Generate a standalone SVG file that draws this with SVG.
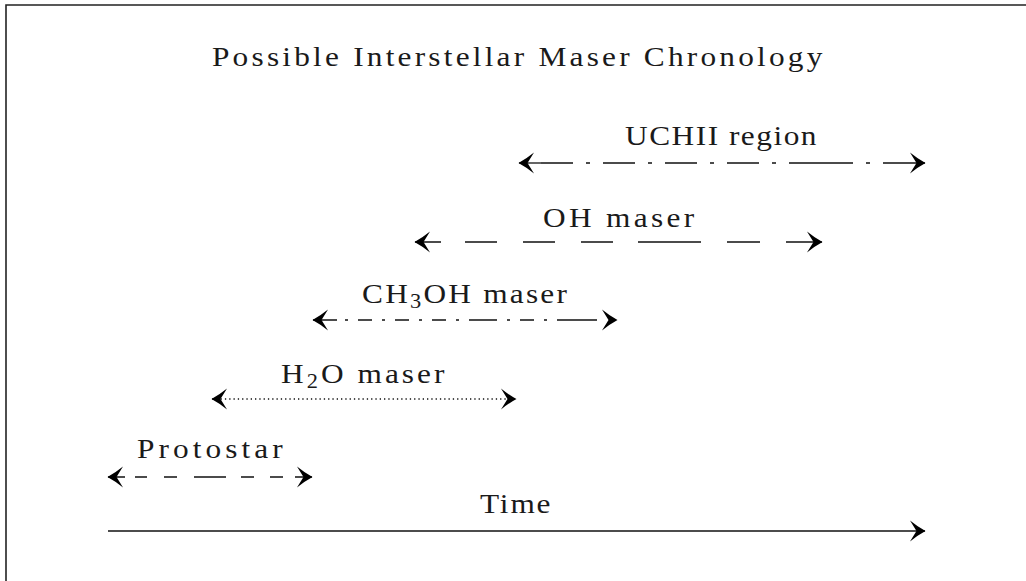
<svg xmlns="http://www.w3.org/2000/svg" width="1026" height="581" viewBox="0 0 1026 581">
<style>
.t{font-family:"Liberation Serif","Times New Roman",serif;font-size:28px;fill:#1a1a1a}
.c{fill:none;stroke:#111;stroke-width:1.3}
.f{fill:none;stroke:#222;stroke-width:1.6}
</style>
<defs>
<marker id="ah" markerUnits="userSpaceOnUse" viewBox="-17 -11 18 22" refX="0" refY="0" markerWidth="18" markerHeight="22" orient="auto-start-reverse">
<path d="M0.5,0 Q-7,-4 -15,-10.5 Q-11,-4 -8.5,0 Q-11,4 -15,10.5 Q-7,4 0.5,0 Z" fill="#000"/>
</marker>
</defs>
<rect x="0" y="0" width="1026" height="581" fill="#fff"/>
<path class="f" d="M6,581 V5 H1026"/>
<text class="t" transform="translate(212,66) scale(1.12,1)" textLength="545" lengthAdjust="spacing">Possible Interstellar Maser Chronology</text>
<g id="uchii">
<text class="t" transform="translate(625,145) scale(1.12,1)" textLength="171" lengthAdjust="spacing">UCHII region</text>
</g>
<g id="oh">
<text class="t" transform="translate(543,227) scale(1.12,1)" textLength="135" lengthAdjust="spacing">OH maser</text>
</g>
<g id="ch3oh">
<text class="t" transform="translate(362,303) scale(1.12,1)" textLength="183" lengthAdjust="spacing">CH<tspan font-size="20" dy="5">3</tspan><tspan dy="-5">OH maser</tspan></text>
</g>
<g id="h2o">
<text class="t" transform="translate(281,383) scale(1.12,1)" textLength="146" lengthAdjust="spacing">H<tspan font-size="20" dy="5">2</tspan><tspan dy="-5">O maser</tspan></text>
</g>
<g id="protostar">
<text class="t" transform="translate(137,458) scale(1.12,1)" textLength="130" lengthAdjust="spacing">Protostar</text>
</g>
<g id="time">
<text class="t" transform="translate(480,513) scale(1.12,1)" textLength="63" lengthAdjust="spacing">Time</text>
</g>
<g id="connectors">
<path class="c" d="M519,163 H541" marker-start="url(#ah)"/>
<path class="c" d="M541,163 H925" stroke-dasharray="32 13 4 13 32 13 4 13 32 13 4 13 32 13 4 13 64 13 4 13 42" marker-end="url(#ah)"/>
<path class="c" d="M415,242 H822" stroke-dasharray="26 24 32 26 32 26 32 25 63 26 33 26 36" marker-start="url(#ah)" marker-end="url(#ah)"/>
<path class="c" d="M313,320 H617" stroke-dasharray="24 8 3 10 14 10 3 10 14 10 3 10 14 10 3 10 28 10 3 10 14 10 3 10 40" marker-start="url(#ah)" marker-end="url(#ah)"/>
<path class="c" d="M212,399 H516" stroke-dasharray="1.3 3" marker-start="url(#ah)" marker-end="url(#ah)"/>
<path class="c" d="M108,477 H312" stroke-dasharray="17 10 12 17 13 17 32 15 13 16 13 12 17" marker-start="url(#ah)" marker-end="url(#ah)"/>
<path class="c" d="M108,531 H925" marker-end="url(#ah)"/>
</g>
</svg>
